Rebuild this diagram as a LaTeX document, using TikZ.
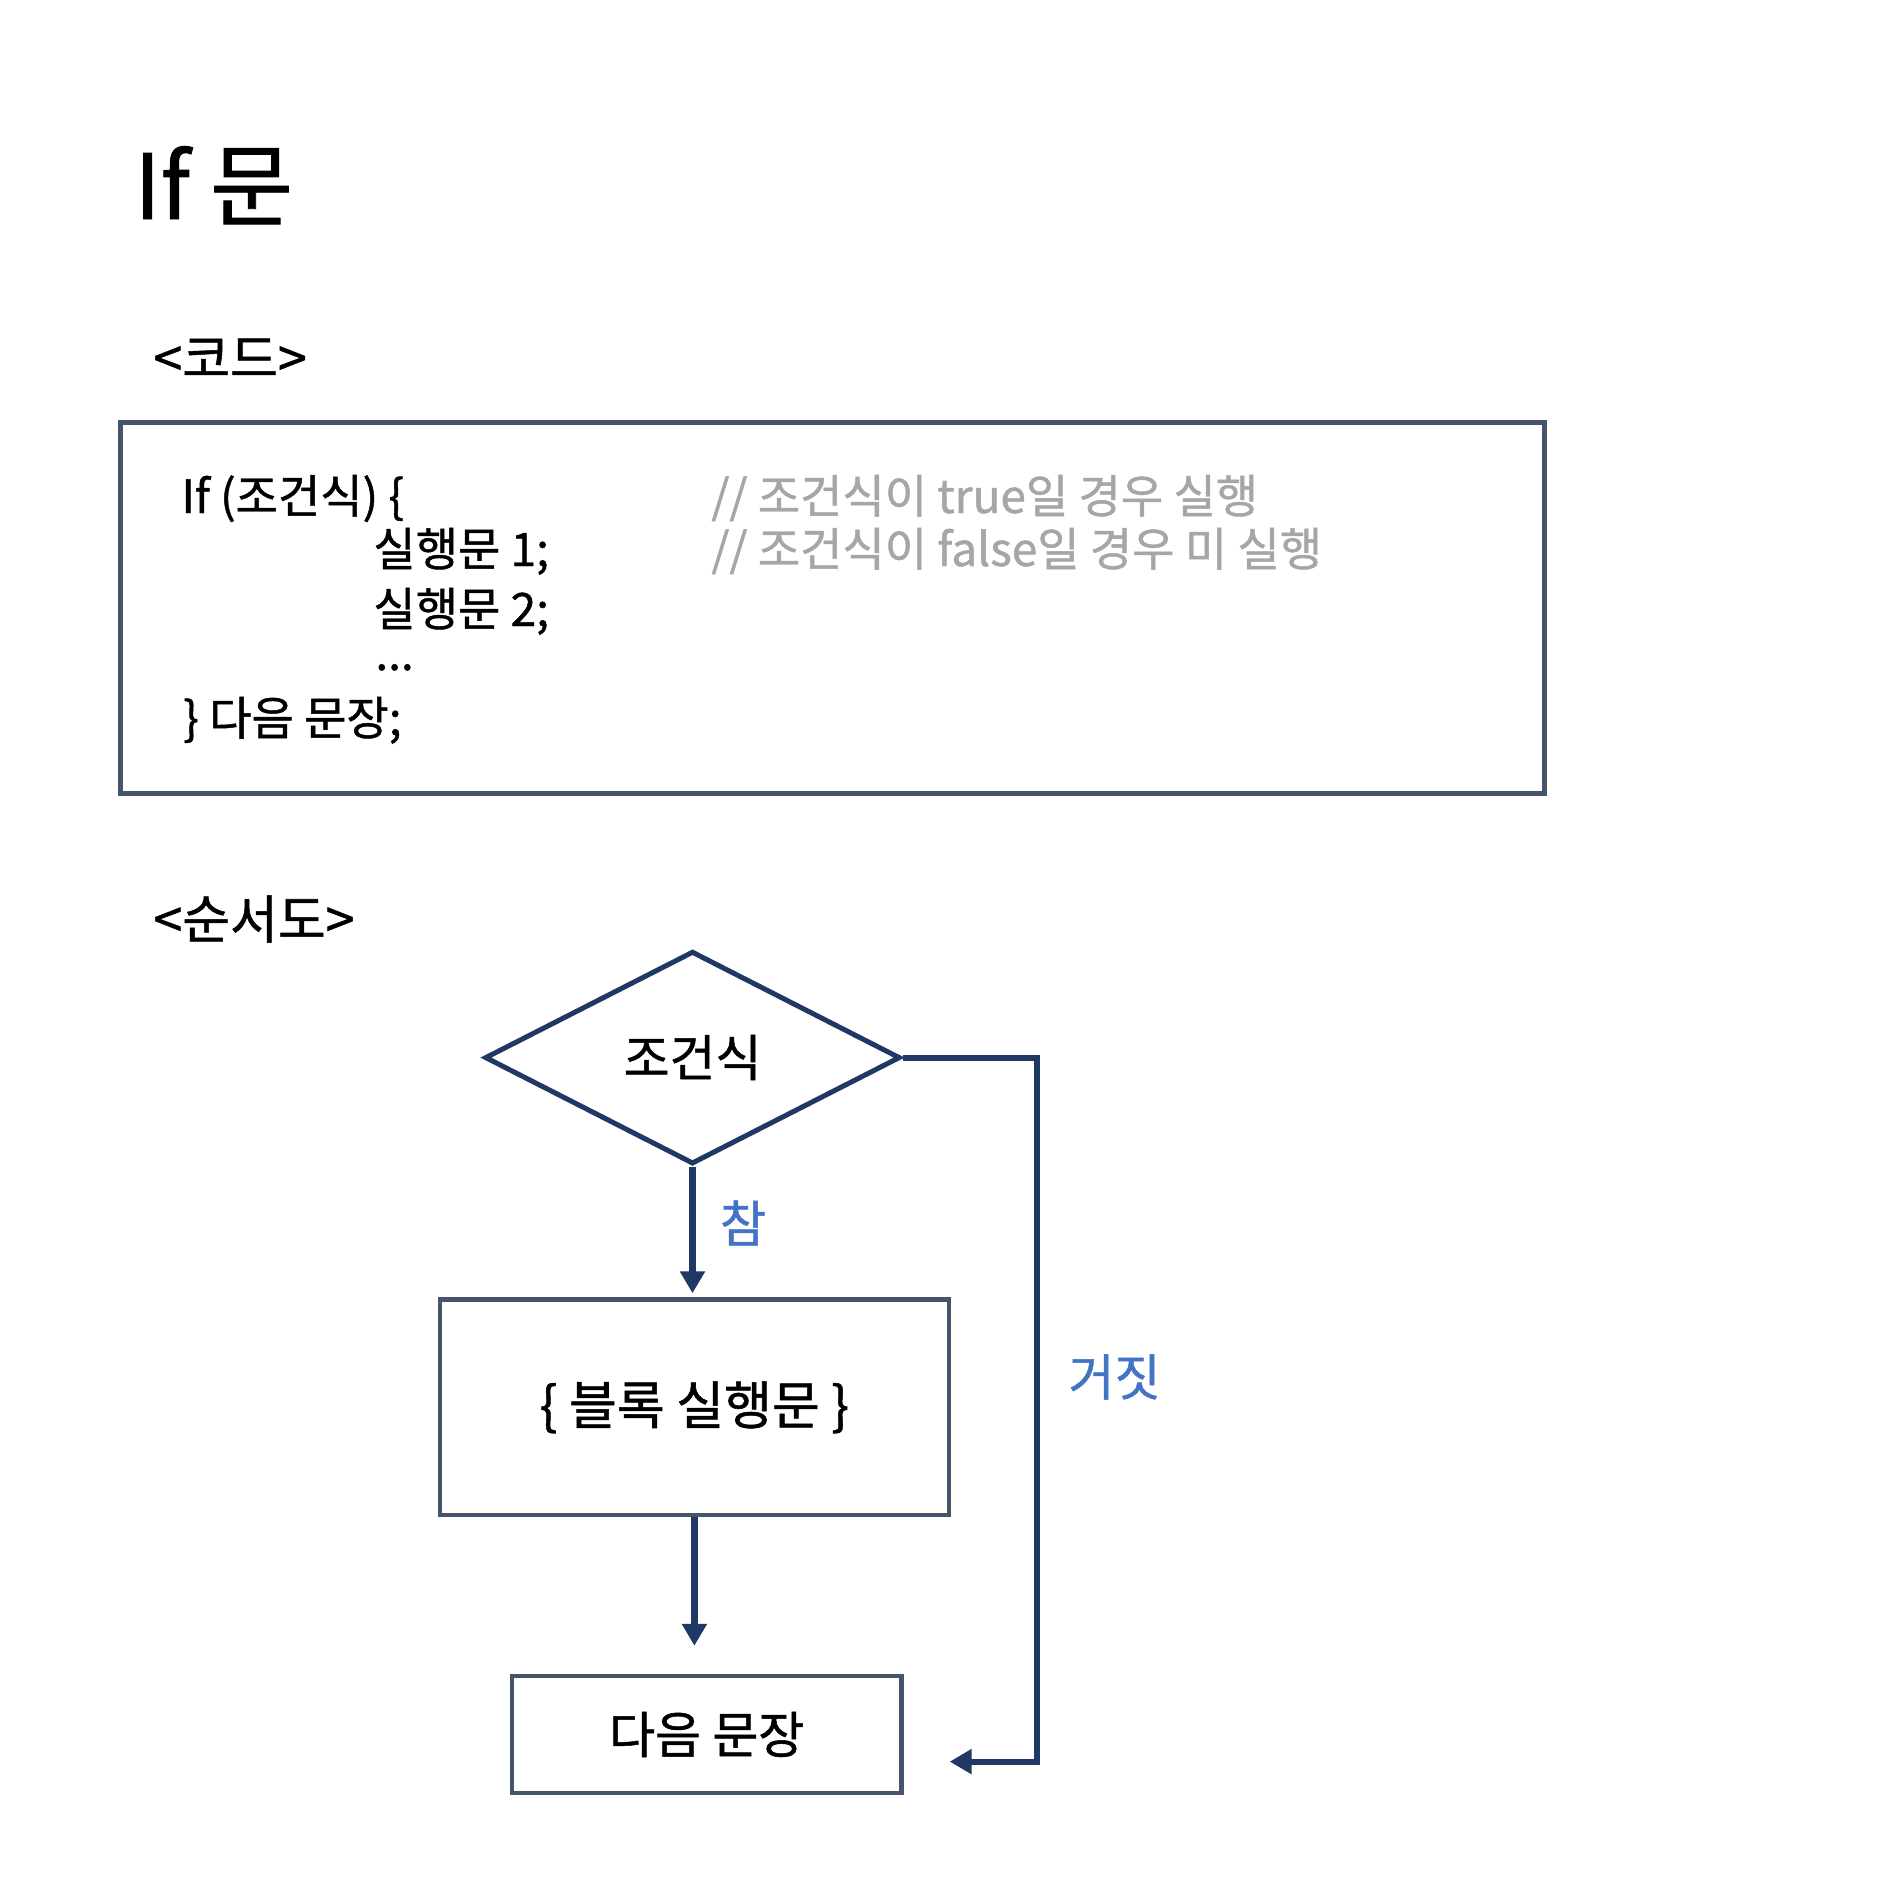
\documentclass[tikz,border=0pt]{standalone}
\usepackage{fontspec}
\setmainfont{Noto Sans CJK KR}[FakeBold=1.0]
\usetikzlibrary{shapes.geometric,arrows.meta}
\definecolor{flownavy}{RGB}{32,56,100}
\definecolor{boxslate}{RGB}{68,84,106}
\definecolor{labelblue}{RGB}{68,114,196}
\definecolor{commentgray}{RGB}{166,166,166}
\tikzset{
    txt/.style={inner sep=0pt},
    codetxt/.style={txt,anchor=base west,font=\fontsize{23pt}{27pt}\selectfont},
    remark/.style={codetxt,text=commentgray},
    heading/.style={txt,anchor=west,font=\fontsize{26pt}{31pt}\selectfont},
    flowtxt/.style={font=\fontsize{25pt}{30pt}\selectfont},
    decision/.style={diamond,draw=flownavy,line width=2.5pt,inner sep=0pt,flowtxt},
    stepbox/.style={rectangle,draw=boxslate,line width=2.25pt,inner sep=0pt,flowtxt},
    flowline/.style={draw=flownavy,line width=3.5pt,-{Triangle[width=12pt,length=11pt]}},
    branch/.style={txt,text=labelblue,flowtxt},
}
\begin{document}
\begin{tikzpicture}[x=0.5pt,y=0.5pt,yscale=-1,xscale=1]
        \fill[white] (0,0) rectangle (1890,1890);
        \useasboundingbox (0,0) rectangle (1890,1890);
        \node[txt,anchor=base west,font=\fontsize{45pt}{54pt}\selectfont] (title) at (134,219) {If 문};
        \node[heading] (codehead) at (153,358) {<코드>};
        \node[rectangle,draw=boxslate,line width=2.5pt,minimum width=711.8pt,minimum height=185.5pt] (codebox) at (832.3,607.5) {};
        \node[codetxt] (line1) at (181,513) {If (조건식) \{};
        \node[codetxt] (line2) at (373,566) {실행문 1;};
        \node[codetxt] (line3) at (373,626) {실행문 2;};
        \node[codetxt] (line4) at (375,670) {...};
        \node[codetxt] (line5) at (183,735) {\} 다음 문장;};
        \node[remark] (remark1) at (711,513) {// 조건식이 true일 경우 실행};
        \node[remark] (remark2) at (711,566) {// 조건식이 false일 경우 미 실행};
        \node[heading] (flowhead) at (153,919) {<순서도>};
        \node[decision,minimum width=207.7pt,minimum height=106.4pt] (cond) at (692.5,1057.6) {조건식};
        \node[stepbox,minimum width=254.4pt,minimum height=107.8pt,font=\fontsize{26pt}{31pt}\selectfont] (blk) at (694.4,1407.3) {\{ 블록 실행문 \}};
        \node[stepbox,minimum width=194.8pt,minimum height=58.5pt] (nxt) at (706.7,1734.5) {다음 문장};
        \coordinate (fcorner) at (1037,1761.6);
        \coordinate (fend) at (949.7,1761.6);
        \draw[flowline,shorten >=2pt] (cond.south) -- (cond.south |- blk.north);
        \draw[flowline,shorten >=14pt] (blk.south) -- (blk.south |- nxt.north);
        \draw[flowline,line width=3pt] (cond.east) -| (fcorner) -- (fend);
        \node[branch] (yes) at (743,1223) {참};
        \node[branch] (no) at (1114.5,1377) {거짓};
    \end{tikzpicture}
\end{document}
